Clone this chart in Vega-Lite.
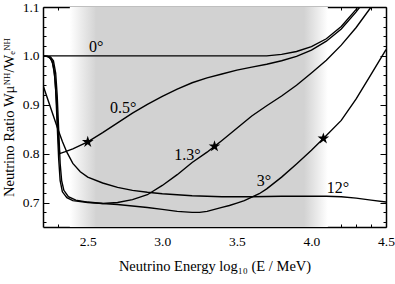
{
  "$schema": "https://vega.github.io/schema/vega-lite/v6.json",
  "width": 343,
  "height": 220,
  "autosize": "none",
  "padding": {"left": 43, "top": 7, "right": 9, "bottom": 57},
  "background": "white",
  "config": {
    "view": {"stroke": null},
    "font": "Liberation Serif, DejaVu Serif, serif",
    "axis": {
      "domainColor": "black", "domainWidth": 1.5, "tickColor": "black", "tickWidth": 1,
      "labelColor": "black", "labelFontSize": 13.5, "titleColor": "black", "titleFontSize": 14.5,
      "titleFontWeight": "normal", "grid": false, "zindex": 1,
      "labelFont": "Liberation Serif, DejaVu Serif, serif", "titleFont": "Liberation Serif, DejaVu Serif, serif"
    }
  },
  "datasets": {
    "curves": [
      {"s": "0", "x": 2.2, "y": 1.0}, {"s": "0", "x": 3.7, "y": 1.0}, {"s": "0", "x": 3.8, "y": 1.003},
      {"s": "0", "x": 3.9, "y": 1.009}, {"s": "0", "x": 4.0, "y": 1.019}, {"s": "0", "x": 4.1, "y": 1.035},
      {"s": "0", "x": 4.2, "y": 1.06}, {"s": "0", "x": 4.3, "y": 1.095}, {"s": "0", "x": 4.33, "y": 1.11},

      {"s": "0.5", "x": 2.2, "y": 1.0}, {"s": "0.5", "x": 2.23, "y": 0.999}, {"s": "0.5", "x": 2.25, "y": 0.995},
      {"s": "0.5", "x": 2.265, "y": 0.985}, {"s": "0.5", "x": 2.28, "y": 0.955}, {"s": "0.5", "x": 2.29, "y": 0.91},
      {"s": "0.5", "x": 2.3, "y": 0.85}, {"s": "0.5", "x": 2.305, "y": 0.82}, {"s": "0.5", "x": 2.312, "y": 0.8},
      {"s": "0.5", "x": 2.35, "y": 0.804}, {"s": "0.5", "x": 2.4, "y": 0.81}, {"s": "0.5", "x": 2.45, "y": 0.817},
      {"s": "0.5", "x": 2.5, "y": 0.824}, {"s": "0.5", "x": 2.6, "y": 0.843}, {"s": "0.5", "x": 2.7, "y": 0.863},
      {"s": "0.5", "x": 2.8, "y": 0.883}, {"s": "0.5", "x": 2.9, "y": 0.901}, {"s": "0.5", "x": 3.0, "y": 0.917},
      {"s": "0.5", "x": 3.1, "y": 0.932}, {"s": "0.5", "x": 3.2, "y": 0.945}, {"s": "0.5", "x": 3.3, "y": 0.955},
      {"s": "0.5", "x": 3.4, "y": 0.963}, {"s": "0.5", "x": 3.5, "y": 0.971}, {"s": "0.5", "x": 3.6, "y": 0.977},
      {"s": "0.5", "x": 3.7, "y": 0.983}, {"s": "0.5", "x": 3.8, "y": 0.99}, {"s": "0.5", "x": 3.9, "y": 0.999},
      {"s": "0.5", "x": 4.0, "y": 1.012}, {"s": "0.5", "x": 4.1, "y": 1.03}, {"s": "0.5", "x": 4.2, "y": 1.055},
      {"s": "0.5", "x": 4.3, "y": 1.09}, {"s": "0.5", "x": 4.35, "y": 1.11},

      {"s": "1.3", "x": 2.2, "y": 1.0}, {"s": "1.3", "x": 2.24, "y": 0.998}, {"s": "1.3", "x": 2.26, "y": 0.99},
      {"s": "1.3", "x": 2.275, "y": 0.97}, {"s": "1.3", "x": 2.285, "y": 0.93}, {"s": "1.3", "x": 2.295, "y": 0.86},
      {"s": "1.3", "x": 2.305, "y": 0.79}, {"s": "1.3", "x": 2.315, "y": 0.745}, {"s": "1.3", "x": 2.33, "y": 0.722},
      {"s": "1.3", "x": 2.36, "y": 0.71}, {"s": "1.3", "x": 2.4, "y": 0.704}, {"s": "1.3", "x": 2.5, "y": 0.7},
      {"s": "1.3", "x": 2.6, "y": 0.698}, {"s": "1.3", "x": 2.7, "y": 0.7}, {"s": "1.3", "x": 2.8, "y": 0.706},
      {"s": "1.3", "x": 2.9, "y": 0.716}, {"s": "1.3", "x": 3.0, "y": 0.735}, {"s": "1.3", "x": 3.1, "y": 0.757},
      {"s": "1.3", "x": 3.2, "y": 0.782}, {"s": "1.3", "x": 3.3, "y": 0.803}, {"s": "1.3", "x": 3.35, "y": 0.815},
      {"s": "1.3", "x": 3.4, "y": 0.827}, {"s": "1.3", "x": 3.5, "y": 0.852}, {"s": "1.3", "x": 3.6, "y": 0.877},
      {"s": "1.3", "x": 3.7, "y": 0.898}, {"s": "1.3", "x": 3.8, "y": 0.918}, {"s": "1.3", "x": 3.9, "y": 0.94},
      {"s": "1.3", "x": 4.0, "y": 0.965}, {"s": "1.3", "x": 4.1, "y": 0.991}, {"s": "1.3", "x": 4.2, "y": 1.022},
      {"s": "1.3", "x": 4.3, "y": 1.058}, {"s": "1.3", "x": 4.4, "y": 1.1}, {"s": "1.3", "x": 4.43, "y": 1.115},

      {"s": "3", "x": 2.2, "y": 1.0}, {"s": "3", "x": 2.25, "y": 0.998}, {"s": "3", "x": 2.27, "y": 0.99},
      {"s": "3", "x": 2.285, "y": 0.965}, {"s": "3", "x": 2.295, "y": 0.92}, {"s": "3", "x": 2.305, "y": 0.85},
      {"s": "3", "x": 2.315, "y": 0.78}, {"s": "3", "x": 2.325, "y": 0.745}, {"s": "3", "x": 2.34, "y": 0.725},
      {"s": "3", "x": 2.37, "y": 0.712}, {"s": "3", "x": 2.42, "y": 0.705}, {"s": "3", "x": 2.5, "y": 0.701},
      {"s": "3", "x": 2.6, "y": 0.698}, {"s": "3", "x": 2.7, "y": 0.696}, {"s": "3", "x": 2.8, "y": 0.693},
      {"s": "3", "x": 2.9, "y": 0.69}, {"s": "3", "x": 3.0, "y": 0.686}, {"s": "3", "x": 3.1, "y": 0.682},
      {"s": "3", "x": 3.2, "y": 0.68}, {"s": "3", "x": 3.25, "y": 0.68}, {"s": "3", "x": 3.3, "y": 0.682},
      {"s": "3", "x": 3.35, "y": 0.686}, {"s": "3", "x": 3.4, "y": 0.69}, {"s": "3", "x": 3.45, "y": 0.694},
      {"s": "3", "x": 3.5, "y": 0.699}, {"s": "3", "x": 3.55, "y": 0.704}, {"s": "3", "x": 3.6, "y": 0.711},
      {"s": "3", "x": 3.65, "y": 0.718}, {"s": "3", "x": 3.7, "y": 0.728}, {"s": "3", "x": 3.8, "y": 0.752},
      {"s": "3", "x": 3.9, "y": 0.779}, {"s": "3", "x": 4.0, "y": 0.807}, {"s": "3", "x": 4.08, "y": 0.831},
      {"s": "3", "x": 4.2, "y": 0.868}, {"s": "3", "x": 4.3, "y": 0.912}, {"s": "3", "x": 4.4, "y": 0.962},
      {"s": "3", "x": 4.5, "y": 1.013},

      {"s": "12", "x": 2.2, "y": 0.94}, {"s": "12", "x": 2.25, "y": 0.895}, {"s": "12", "x": 2.3, "y": 0.85},
      {"s": "12", "x": 2.33, "y": 0.825}, {"s": "12", "x": 2.36, "y": 0.803}, {"s": "12", "x": 2.4, "y": 0.78},
      {"s": "12", "x": 2.45, "y": 0.763}, {"s": "12", "x": 2.5, "y": 0.752}, {"s": "12", "x": 2.6, "y": 0.74},
      {"s": "12", "x": 2.7, "y": 0.731}, {"s": "12", "x": 2.8, "y": 0.725}, {"s": "12", "x": 2.9, "y": 0.721},
      {"s": "12", "x": 3.0, "y": 0.718}, {"s": "12", "x": 3.1, "y": 0.716}, {"s": "12", "x": 3.2, "y": 0.714},
      {"s": "12", "x": 3.4, "y": 0.712}, {"s": "12", "x": 3.6, "y": 0.712}, {"s": "12", "x": 3.8, "y": 0.713},
      {"s": "12", "x": 4.0, "y": 0.713}, {"s": "12", "x": 4.1, "y": 0.713}, {"s": "12", "x": 4.2, "y": 0.712},
      {"s": "12", "x": 4.3, "y": 0.709}, {"s": "12", "x": 4.4, "y": 0.705}, {"s": "12", "x": 4.5, "y": 0.701}
    ],
    "stars": [
      {"x": 2.5, "y": 0.824}, {"x": 3.35, "y": 0.815}, {"x": 4.08, "y": 0.831}
    ],
    "labels": [
      {"x": 2.557, "y": 1.019, "t": "0°"},
      {"x": 2.738, "y": 0.894, "t": "0.5°"},
      {"x": 3.168, "y": 0.797, "t": "1.3°"},
      {"x": 3.681, "y": 0.744, "t": "3°"},
      {"x": 4.178, "y": 0.729, "t": "12°"}
    ]
  },
  "layer": [
    {
      "data": {"values": [{"a": 2.38, "b": 2.56}]},
      "mark": {"type": "rect", "color": {"gradient": "linear", "x1": 0, "y1": 0, "x2": 1, "y2": 0,
        "stops": [{"offset": 0, "color": "#ffffff"}, {"offset": 0.5, "color": "#e8e8e8"}, {"offset": 1, "color": "#d2d2d2"}]}},
      "encoding": {
        "x": {"field": "a", "type": "quantitative", "scale": {"domain": [2.2, 4.5], "nice": false, "zero": false}, "axis": null},
        "x2": {"field": "b"}
      }
    },
    {
      "data": {"values": [{"a": 2.555, "b": 3.955}]},
      "mark": {"type": "rect", "color": "#d2d2d2"},
      "encoding": {
        "x": {"field": "a", "type": "quantitative", "scale": {"domain": [2.2, 4.5], "nice": false, "zero": false}, "axis": null},
        "x2": {"field": "b"}
      }
    },
    {
      "data": {"values": [{"a": 3.95, "b": 4.11}]},
      "mark": {"type": "rect", "color": {"gradient": "linear", "x1": 0, "y1": 0, "x2": 1, "y2": 0,
        "stops": [{"offset": 0, "color": "#d2d2d2"}, {"offset": 0.5, "color": "#e8e8e8"}, {"offset": 1, "color": "#ffffff"}]}},
      "encoding": {
        "x": {"field": "a", "type": "quantitative", "scale": {"domain": [2.2, 4.5], "nice": false, "zero": false}, "axis": null},
        "x2": {"field": "b"}
      }
    },
    {
      "data": {"name": "curves"},
      "mark": {"type": "line", "color": "black", "strokeWidth": 1.4, "clip": true},
      "encoding": {
        "x": {"field": "x", "type": "quantitative", "scale": {"domain": [2.2, 4.5], "nice": false, "zero": false},
          "axis": {"orient": "bottom", "title": "Neutrino Energy log₁₀ (E / MeV)", "titlePadding": 12,
            "values": [2.5, 3.0, 3.5, 4.0, 4.5], "format": ".1f", "ticks": false,
            "labelPadding": 7, "labelFlush": false, "labelOverlap": false}},
        "y": {"field": "y", "type": "quantitative", "scale": {"domain": [0.65, 1.1], "nice": false, "zero": false},
          "axis": {"orient": "left", "title": "Neutrino Ratio Wμᴺᴴ/Wₑᴺᴴ", "titlePadding": 6,
            "values": [0.7, 0.8, 0.9, 1.0, 1.1], "format": ".1f", "ticks": false,
            "labelPadding": 4, "labelFlush": false, "labelOverlap": false}},
        "detail": {"field": "s", "type": "nominal"}
      }
    },
    {
      "data": {"name": "stars"},
      "mark": {"type": "point", "filled": true, "color": "black", "opacity": 1, "size": 150,
        "shape": "M0,-1L0.2245,-0.309L0.951,-0.309L0.363,0.118L0.588,0.809L0,0.382L-0.588,0.809L-0.363,0.118L-0.951,-0.309L-0.2245,-0.309Z"},
      "encoding": {
        "x": {"field": "x", "type": "quantitative", "scale": {"domain": [2.2, 4.5], "nice": false, "zero": false}, "axis": null},
        "y": {"field": "y", "type": "quantitative", "scale": {"domain": [0.65, 1.1], "nice": false, "zero": false}, "axis": null}
      }
    },
    {
      "data": {"name": "labels"},
      "mark": {"type": "text", "font": "Liberation Serif, DejaVu Serif, serif", "fontSize": 16, "color": "black", "baseline": "middle", "align": "center"},
      "encoding": {
        "x": {"field": "x", "type": "quantitative", "scale": {"domain": [2.2, 4.5], "nice": false, "zero": false}, "axis": null},
        "y": {"field": "y", "type": "quantitative", "scale": {"domain": [0.65, 1.1], "nice": false, "zero": false}, "axis": null},
        "text": {"field": "t"}
      }
    },
    {
      "data": {"name": "stars"},
      "mark": {"type": "point", "opacity": 0},
      "encoding": {
        "x": {"field": "x", "type": "quantitative", "scale": {"domain": [2.2, 4.5], "nice": false, "zero": false},
          "axis": {"orient": "bottom", "offset": -220, "title": null, "labels": false, "domain": true,
            "values": [2.5, 3.0, 3.5, 4.0, 4.5], "tickSize": 6}},
        "y": {"field": "y", "type": "quantitative", "scale": {"domain": [0.65, 1.1], "nice": false, "zero": false},
          "axis": {"orient": "left", "offset": -343, "title": null, "labels": false, "domain": true,
            "values": [0.7, 0.8, 0.9, 1.0, 1.1], "tickSize": 6}}
      }
    },
    {
      "data": {"name": "stars"},
      "mark": {"type": "point", "opacity": 0},
      "encoding": {
        "x": {"field": "x", "type": "quantitative", "scale": {"domain": [2.2, 4.5], "nice": false, "zero": false},
          "axis": {"orient": "bottom", "offset": -220, "title": null, "labels": false, "domain": false,
            "values": [2.3, 2.4, 2.6, 2.7, 2.8, 2.9, 3.1, 3.2, 3.3, 3.4, 3.6, 3.7, 3.8, 3.9, 4.1, 4.2, 4.3, 4.4], "tickSize": 3}},
        "y": {"field": "y", "type": "quantitative", "scale": {"domain": [0.65, 1.1], "nice": false, "zero": false},
          "axis": {"orient": "left", "offset": -343, "title": null, "labels": false, "domain": false,
            "values": [0.66, 0.68, 0.72, 0.74, 0.76, 0.78, 0.82, 0.84, 0.86, 0.88, 0.92, 0.94, 0.96, 0.98, 1.02, 1.04, 1.06, 1.08], "tickSize": 3}}
      }
    },
    {
      "data": {"name": "stars"},
      "mark": {"type": "point", "opacity": 0},
      "encoding": {
        "x": {"field": "x", "type": "quantitative", "scale": {"domain": [2.2, 4.5], "nice": false, "zero": false},
          "axis": {"orient": "top", "offset": -220, "title": null, "labels": false, "domain": false,
            "values": [2.5, 3.0, 3.5, 4.0, 4.5], "tickSize": 6}},
        "y": {"field": "y", "type": "quantitative", "scale": {"domain": [0.65, 1.1], "nice": false, "zero": false},
          "axis": {"orient": "right", "offset": -343, "title": null, "labels": false, "domain": false,
            "values": [0.7, 0.8, 0.9, 1.0, 1.1], "tickSize": 6}}
      }
    },
    {
      "data": {"name": "stars"},
      "mark": {"type": "point", "opacity": 0},
      "encoding": {
        "x": {"field": "x", "type": "quantitative", "scale": {"domain": [2.2, 4.5], "nice": false, "zero": false},
          "axis": {"orient": "top", "offset": -220, "title": null, "labels": false, "domain": false,
            "values": [2.3, 2.4, 2.6, 2.7, 2.8, 2.9, 3.1, 3.2, 3.3, 3.4, 3.6, 3.7, 3.8, 3.9, 4.1, 4.2, 4.3, 4.4], "tickSize": 3}},
        "y": {"field": "y", "type": "quantitative", "scale": {"domain": [0.65, 1.1], "nice": false, "zero": false},
          "axis": {"orient": "right", "offset": -343, "title": null, "labels": false, "domain": false,
            "values": [0.66, 0.68, 0.72, 0.74, 0.76, 0.78, 0.82, 0.84, 0.86, 0.88, 0.92, 0.94, 0.96, 0.98, 1.02, 1.04, 1.06, 1.08], "tickSize": 3}}
      }
    }
  ],
  "resolve": {"axis": {"x": "independent", "y": "independent"}}
}
